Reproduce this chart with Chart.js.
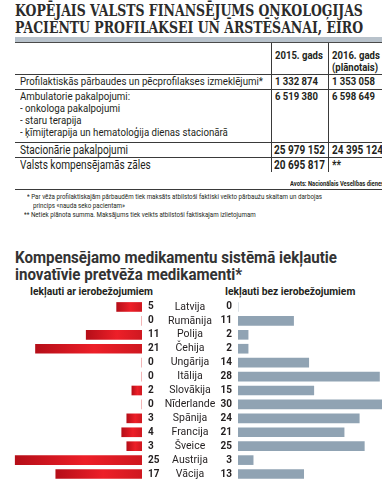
<!DOCTYPE html>
<html><head><meta charset="utf-8">
<script src="https://cdn.jsdelivr.net/npm/chart.js@4.4.1/dist/chart.umd.min.js"></script>
<style>
html,body{margin:0;padding:0;background:#fff;}
body{width:382px;height:487px;overflow:hidden;position:relative;font-family:"Roboto","Liberation Sans",sans-serif;color:#231f20;}
.t{position:absolute;white-space:nowrap;line-height:12px;transform-origin:0 50%;}
.b{font-weight:bold;}
.ln{position:absolute;background:#3a3a3a;}
#title{position:absolute;left:15px;top:2px;font-family:"DejaVu Serif",serif;font-weight:bold;font-size:16px;line-height:17px;color:#2b2b2b;white-space:nowrap;transform-origin:0 0;}
#band{position:absolute;left:15px;top:37px;width:367px;height:5px;background:#b8c2cb;border-bottom:1px solid #4a4a4a;}
#ctitle{position:absolute;left:15px;top:249px;font-weight:bold;font-size:17px;line-height:17px;color:#333;white-space:nowrap;transform-origin:0 0;}
canvas{position:absolute;}
</style></head>
<body>
<div id="title">KOPĒJAIS VALSTS FINANSĒJUMS ONKOLOĢIJAS<br>PACIENTU PROFILAKSEI UN ĀRSTĒŠANAI, EIRO</div>
<div id="band"></div>
<div id="table"></div>
<div id="ctitle">Kompensējamo medikamentu sistēmā iekļautie<br>inovatīvie pretvēža medikamenti*</div>
<div id="sub1" class="t b" style="left:30px;top:286px;font-size:11px;">Iekļauti ar ierobežojumiem</div>
<div id="sub2" class="t b" style="left:225px;top:286px;font-size:11px;">Iekļauti bez ierobežojumiem</div>
<canvas id="left" width="160" height="187" style="left:0;top:300px;"></canvas>
<canvas id="right" width="232" height="187" style="left:150px;top:300px;"></canvas>
<script>
// ---- table data ----
const yearHeaders = [["2015. gads"], ["2016. gads", "(plānotais)"]];
const rowLabels = [
  ["Profilaktiskās pārbaudes un pēcprofilakses izmeklējumi*"],
  ["Ambulatorie pakalpojumi:", "- onkologa pakalpojumi", "- staru terapija", "- ķīmijterapija un hematoloģija dienas stacionārā"],
  ["Stacionārie pakalpojumi"],
  ["Valsts kompensējamās zāles"]
];
const values2015 = ["1 332 874", "6 519 380", "25 979 152", "20 695 817"];
const values2016 = ["1 353 058", "6 598 649", "24 395 124", "**"];
const sourceText = "Avots: Nacionālais Veselības dienests";
const footnotes = [
  "* Par vēža profilaktiskajām pārbaudēm tiek maksāts atbilstoši faktiski veikto pārbaužu skaitam un darbojas",
  "princips «nauda seko pacientam»",
  "** Netiek plānota summa. Maksājums tiek veikts atbilstoši faktiskajam izlietojumam"
];

// ---- chart data ----
const countries = ["Latvija", "Rumānija", "Polija", "Čehija", "Ungārija", "Itālija", "Slovākija", "Nīderlande", "Spānija", "Francija", "Šveice", "Austrija", "Vācija"];
const withRestrictions = [5, 0, 11, 21, 0, 0, 2, 0, 3, 4, 3, 25, 17];
const withoutRestrictions = [0, 11, 2, 2, 14, 28, 15, 30, 24, 21, 25, 3, 13];

// ---- helpers ----
const tbl = document.getElementById('table');
function txt(x, yc, s, size, bold) {
  const d = document.createElement('div');
  d.className = 't' + (bold ? ' b' : '');
  d.style.left = x + 'px';
  d.style.top = (yc - 6) + 'px';
  d.style.fontSize = size + 'px';
  d.textContent = s;
  tbl.appendChild(d);
  return d;
}
function line(x, y, w, h) {
  const d = document.createElement('div');
  d.className = 'ln';
  Object.assign(d.style, {left: x + 'px', top: y + 'px', width: w + 'px', height: h + 'px'});
  tbl.appendChild(d);
}
function widthOf(el) { return el.getBoundingClientRect().width; }
function squeeze(els, k) { els.forEach(e => { e.style.transform = 'scaleX(' + k + ')'; }); }

// ---- build table ----
const colX = [20, 274, 332];
const labelEls = [], valueEls = [], bigLabelEls = [], bigValueEls = [], noteEls = [];
yearHeaders[0].forEach((s, i) => valueEls.push(txt(colX[1] + 1, 56 + i * 12, s, 11, true)));
yearHeaders[1].forEach((s, i) => valueEls.push(txt(colX[2], 56 + i * 12, s, 11, true)));
const rowY = [82, 97, 150, 165];
const rowSize = [11, 11, 12.5, 12.5];
rowLabels.forEach((lines, r) => {
  const big = r >= 2;
  lines.forEach((s, i) => (big ? bigLabelEls : labelEls).push(txt(colX[0], rowY[r] + i * 12, s, rowSize[r], false)));
  (big ? bigValueEls : valueEls).push(txt(colX[1] + (big ? 0 : 1), rowY[r], values2015[r], rowSize[r], true));
  (big ? bigValueEls : valueEls).push(txt(colX[2], rowY[r], values2016[r], rowSize[r], true));
});
[74, 89, 142, 157].forEach(y => line(15, y, 367, 1));
line(15, 189, 367, 1);
line(271, 43, 1, 129);
line(328, 43, 1, 129);
const src = txt(290, 184, sourceText, 7, true);
noteEls.push(txt(27, 197, footnotes[0], 7.5, false));
noteEls.push(txt(33, 206, footnotes[1], 7.5, false));
noteEls.push(txt(24, 215, footnotes[2], 7.5, false));

// condense text to the narrow face of the original
const title = document.getElementById('title');
title.style.transform = 'scaleX(' + (348 / widthOf(title)) + ')';
const ctitle = document.getElementById('ctitle');
ctitle.style.transform = 'scaleX(' + (322 / widthOf(ctitle)) + ')';
squeeze(labelEls, 243 / widthOf(labelEls[0]));
squeeze(valueEls, 43 / widthOf(valueEls[3]));
squeeze(bigLabelEls, 108 / widthOf(bigLabelEls[0]));
squeeze(bigValueEls, 51 / widthOf(bigValueEls[0]));
const kn = 295 / widthOf(noteEls[0]);
squeeze(noteEls, kn);
squeeze([src], kn);
const s1 = document.getElementById('sub1'), s2 = document.getElementById('sub2');
squeeze([s1, s2], 123 / widthOf(s1));

// ---- charts ----
const FONT = "Roboto, 'Liberation Sans', sans-serif";
const valueLabels = {
  id: 'valueLabels',
  afterDatasetsDraw(chart, args, opts) {
    const c = chart.ctx, xs = chart.scales.x, ys = chart.scales.y;
    const data = chart.data.datasets[0].data;
    c.save();
    c.font = 'bold 10px ' + FONT;
    c.fillStyle = '#231f20';
    c.textBaseline = 'middle';
    c.textAlign = opts.align;
    const x = xs.getPixelForValue(0) + opts.offset;
    data.forEach((v, i) => c.fillText(String(v), x, ys.getPixelForValue(i)));
    c.restore();
  }
};
function redGradient(ctx) {
  const chart = ctx.chart, xs = chart.scales.x;
  if (!xs || ctx.type !== 'data') return '#d91e26';
  const x0 = xs.getPixelForValue(ctx.raw), x1 = xs.getPixelForValue(0);
  if (!isFinite(x0) || !isFinite(x1) || x0 === x1) return '#d91e26';
  const g = chart.ctx.createLinearGradient(x0, 0, x1, 0);
  g.addColorStop(0, '#b50e18');
  g.addColorStop(0.55, '#ed1f28');
  g.addColorStop(1, '#cf1820');
  return g;
}
const common = {
  indexAxis: 'y', responsive: false, animation: false, events: [], devicePixelRatio: 1,
  plugins: {legend: {display: false}, tooltip: {enabled: false}}
};
new Chart(document.getElementById('left'), {
  type: 'bar',
  data: {labels: countries, datasets: [{data: withRestrictions, backgroundColor: redGradient, barThickness: 9, borderWidth: 0}]},
  options: Object.assign({}, common, {
    layout: {padding: {left: 0, right: 18, top: 0, bottom: 6}},
    scales: {x: {reverse: true, min: 0, max: 28, display: false}, y: {display: false}},
    plugins: Object.assign({}, common.plugins, {valueLabels: {align: 'left', offset: 6}})
  }),
  plugins: [valueLabels]
});
const mc = document.createElement('canvas').getContext('2d');
mc.font = '10.5px ' + FONT;
const widest = Math.max(...countries.map(s => mc.measureText(s).width));
new Chart(document.getElementById('right'), {
  type: 'bar',
  data: {labels: countries, datasets: [{data: withoutRestrictions, backgroundColor: '#90a3b3', barThickness: 9, borderWidth: 0}]},
  options: Object.assign({}, common, {
    layout: {padding: {left: 0, right: 0, top: 0, bottom: 6}},
    scales: {
      x: {min: 0, max: 28.5, display: false},
      y: {
        display: true, grid: {display: false, drawTicks: false}, border: {display: false},
        ticks: {autoSkip: false, crossAlign: 'center', padding: 48 - widest / 2, color: '#231f20', font: {family: FONT, size: 10.5}},
        afterFit(s) { s.width = 88; s.paddingTop = 0; s.paddingBottom = 0; }
      }
    },
    plugins: Object.assign({}, common.plugins, {valueLabels: {align: 'right', offset: -6}})
  }),
  plugins: [valueLabels]
});
</script>
</body></html>
